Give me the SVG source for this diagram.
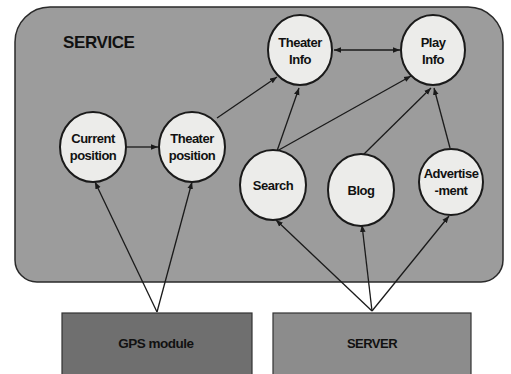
<svg xmlns="http://www.w3.org/2000/svg" width="511" height="374" viewBox="0 0 511 374">
<defs>
<marker id="ah" viewBox="0 0 10 10" refX="10" refY="5" markerWidth="7" markerHeight="7" orient="auto-start-reverse" markerUnits="userSpaceOnUse">
<path d="M0,1 L10,5 L0,9 z" fill="#1a1a1a"/>
</marker>
<style>
.node circle, .node ellipse{fill:#ececea;stroke:#1a1a1a;stroke-width:2}
.lbl{font-family:"Liberation Sans",Arial,sans-serif;font-weight:bold;font-size:13px;fill:#111;text-anchor:middle;letter-spacing:-0.5px}
.conn line{stroke:#1a1a1a;stroke-width:1.3;marker-end:url(#ah)}
.box{stroke:#333;stroke-width:1.2}
</style>
</defs>
<rect width="511" height="374" fill="#ffffff"/>
<g id="service">
<path d="M50,7 H468 A35,35 0 0 1 503,42 V260 A22,22 0 0 1 481,282 H37 A22,22 0 0 1 15,260 V42 A35,35 0 0 1 50,7 Z" fill="#9c9c9c" stroke="#2a2a2a" stroke-width="1.5"/>
<text x="63" y="48" class="lbl" style="text-anchor:start;font-size:17px;letter-spacing:-0.4px">SERVICE</text>
</g>
<g id="gps">
<rect class="box" x="62" y="313" width="190" height="66" fill="#6f6f6f"/>
<text x="156" y="348" class="lbl" style="font-size:13.5px">GPS module</text>
</g>
<g id="server">
<rect class="box" x="273" y="313" width="198" height="66" fill="#8c8c8c"/>
<text x="372" y="348" class="lbl">SERVER</text>
</g>
<g class="conn" id="connectors">
<line x1="157" y1="312" x2="95" y2="182"/>
<line x1="157" y1="312" x2="192" y2="182"/>
<line x1="372" y1="311" x2="276" y2="220"/>
<line x1="372" y1="311" x2="362" y2="225"/>
<line x1="372" y1="311" x2="449" y2="216"/>
<line x1="126" y1="147" x2="158" y2="147"/>
<line x1="217" y1="118" x2="277" y2="77"/>
<line x1="277" y1="151" x2="299" y2="88"/>
<line x1="277" y1="151" x2="411" y2="76"/>
<line x1="363" y1="155" x2="431" y2="88"/>
<line x1="450" y1="148" x2="434" y2="88"/>
<line x1="334" y1="50" x2="400" y2="50" style="marker-start:url(#ah)"/>
</g>
<g class="node" id="current-position">
<ellipse cx="93" cy="147" rx="33" ry="35"/>
<text x="93" y="143" class="lbl">Current</text>
<text x="93" y="160" class="lbl">position</text>
</g>
<g class="node" id="theater-position">
<ellipse cx="192" cy="147" rx="33" ry="35"/>
<text x="192" y="143" class="lbl">Theater</text>
<text x="192" y="160" class="lbl">position</text>
</g>
<g class="node" id="theater-info">
<ellipse cx="300" cy="50" rx="32" ry="35"/>
<text x="300" y="47" class="lbl">Theater</text>
<text x="300" y="64" class="lbl">Info</text>
</g>
<g class="node" id="play-info">
<ellipse cx="433" cy="50" rx="32" ry="35"/>
<text x="433" y="47" class="lbl">Play</text>
<text x="433" y="64" class="lbl">Info</text>
</g>
<g class="node" id="search">
<ellipse cx="273" cy="185" rx="33" ry="35"/>
<text x="273" y="190" class="lbl">Search</text>
</g>
<g class="node" id="blog">
<ellipse cx="361" cy="190" rx="33" ry="36"/>
<text x="361" y="195" class="lbl">Blog</text>
</g>
<g class="node" id="advertisement">
<ellipse cx="451" cy="182" rx="32" ry="33"/>
<text x="451" y="178" class="lbl">Advertise</text>
<text x="451" y="195" class="lbl">-ment</text>
</g>
</svg>
